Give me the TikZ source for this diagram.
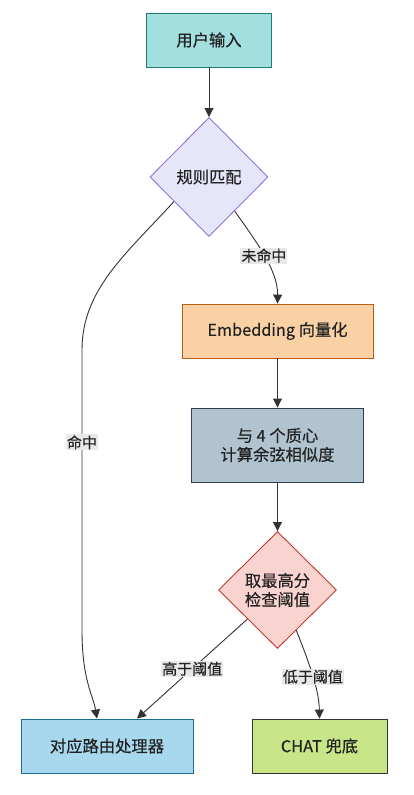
\documentclass[tikz,border=0pt]{standalone}
\usepackage{fontspec}
\setmainfont{Noto Sans CJK SC}[FakeBold=0.4]
\usetikzlibrary{shapes.geometric,arrows.meta,calc}
\definecolor{txt}{HTML}{222222}
\definecolor{edgec}{HTML}{333333}
\definecolor{lblbg}{HTML}{E8E8E8}
\definecolor{inF}{HTML}{A3DFDF}\definecolor{inD}{HTML}{1E7B7B}
\definecolor{ruF}{HTML}{E6E6FA}\definecolor{ruD}{HTML}{9370DB}
\definecolor{emF}{HTML}{F9D1A5}\definecolor{emD}{HTML}{B85C10}
\definecolor{ceF}{HTML}{B0C3CE}\definecolor{ceD}{HTML}{2C3E50}
\definecolor{deF}{HTML}{F9D3D0}\definecolor{deD}{HTML}{C0392B}
\definecolor{roF}{HTML}{A8D8EE}\definecolor{roD}{HTML}{1A6A9A}
\definecolor{chF}{HTML}{C8E687}\definecolor{chD}{HTML}{333333}
\begin{document}
\begin{tikzpicture}[x=1pt,y=-1pt,
  base/.style={draw, line width=0.9pt, text=txt, font=\fontsize{16.3pt}{19pt}\selectfont, align=center, inner sep=0pt},
  box/.style={base, rectangle},
  dia/.style={base, diamond, minimum width=118pt, minimum height=119pt},
  edge/.style={draw=edgec, line width=0.9pt, -{Triangle[length=9pt,width=9pt]}},
  lbl/.style={fill=lblbg, text=txt, font=\fontsize{15pt}{17pt}\selectfont, inner xsep=1pt, inner ysep=1pt}]
\useasboundingbox[fill=white] (0,0) rectangle (414,795);

\node[box, fill=inF, draw=inD, minimum width=125pt, minimum height=54pt] (input) at (209,40) {用户输入};
\node[dia, fill=ruF, draw=ruD] (rule) at (209,177) {规则匹配};
\node[box, fill=emF, draw=emD, minimum width=191pt, minimum height=54pt] (emb) at (277.5,331) {Embedding 向量化};
\node[box, fill=ceF, draw=ceD, minimum width=172pt, minimum height=74pt] (cen) at (277.5,445) {与 4 个质心\\计算余弦相似度};
\node[dia, fill=deF, draw=deD, minimum height=117pt] (dec) at (277.5,590) {取最高分\\检查阈值};
\node[box, fill=roF, draw=roD, minimum width=172pt, minimum height=54pt] (router) at (107,746) {对应路由处理器};
\node[box, fill=chF, draw=chD, minimum width=135pt, minimum height=54pt] (chat) at (319.5,746) {CHAT 兜底};

\draw[edge] (input) -- (rule);
\draw[edge] (rule.215) .. controls (125,255) and (82,290) .. (82,350)
  -- node[lbl, pos=0.33] {命中} (82,630)
  .. controls (82,680) and (93,695) .. ($(router.north)+(-10,0)$);
\draw[edge] (rule.307) .. controls (255,240) and (278,270) .. node[lbl, pos=0.5] {未命中} (emb.north);
\draw[edge] (emb) -- (cen);
\draw[edge] (cen) -- (dec);
\draw[edge] (dec.224) -- node[lbl, pos=0.5] {高于阈值} ($(router.north)+(30,0)$);
\draw[edge] (dec.295.5) .. controls (310,665) and (319,690) .. node[lbl, pos=0.5] {低于阈值} (chat.north);
\end{tikzpicture}
\end{document}
